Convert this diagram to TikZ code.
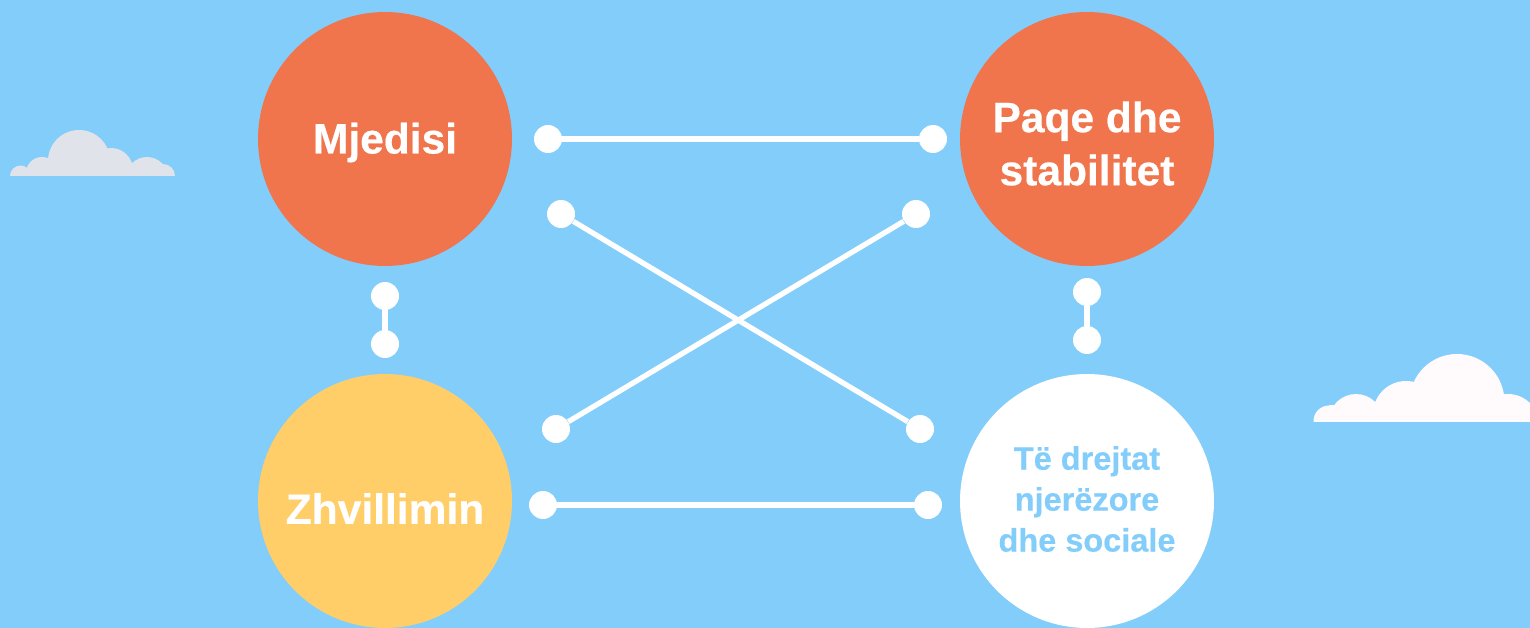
\documentclass[tikz,border=0pt]{standalone}
\usepackage{fontspec}
\setmainfont{Liberation Sans}[BoldFeatures={FakeBold=0.4}]
\definecolor{sky}{HTML}{83CDFB}
\definecolor{coral}{HTML}{F0754C}
\definecolor{sun}{HTML}{FFCE69}
\definecolor{cloudA}{HTML}{E1E3EA}
\definecolor{cloudB}{HTML}{FFFAFB}
\tikzset{
  x=0.02cm,y=-0.02cm,
  topic/.style={circle,minimum size=5.08cm,inner sep=0pt},
  caption/.style={align=center,inner sep=0pt,font=\bfseries\fontsize{24.2}{30.2}\selectfont,text=white},
  small caption/.style={caption,text=sky,font=\bfseries\fontsize{18.5}{23.3}\selectfont},
  dot/.style={circle,fill=white,minimum size=0.56cm,inner sep=0pt},
  link/.style={draw=white,line width=3.4pt},
  thin link/.style={draw=white,line width=3pt}
}
\begin{document}
\begin{tikzpicture}
\useasboundingbox (0,0) rectangle (1530,628);
\fill[sky] (0,0) rectangle (1530,628);
\begin{scope}
\clip (0,0) rectangle (1530,176);
\fill[cloudA] (79,161) circle[radius=31] (42,173) circle[radius=16] (20.5,176) circle[radius=10.5]
  (111,170) circle[radius=22] (147,178) circle[radius=21] (163,176) circle[radius=12];
\end{scope}
\begin{scope}
\clip (0,0) rectangle (1530,421);
\fill[cloudB] (1329,421) circle[radius=15.5] (1356,421) circle[radius=27] (1406,414) circle[radius=33]
  (1457,401.4) circle[radius=47.4] (1508,425) circle[radius=31];
\fill[cloudB] (1329,405) rectangle (1530,421);
\end{scope}
\begin{scope}
\clip (0,0) rectangle (1530,628);
\node[topic,fill=coral] (env) at (385,139) {};
\node[topic,fill=coral] (peace) at (1087,139) {};
\node[topic,fill=sun] (dev) at (385,501) {};
\node[topic,fill=white] (rights) at (1087,501) {};
\end{scope}
\node[caption] (envt) at (385,142.5) {Mjedisi};
\node[caption] (peacet) at (1087,143.5) {Paqe dhe\\stabilitet};
\node[caption] (devt) at (385,508.5) {Zhvillimin};
\node[small caption] (rightst) at (1087,499) {Të drejtat\\njerëzore\\dhe sociale};
\node[dot] (a1) at (548,139) {};
\node[dot] (a2) at (933,139) {};
\node[dot] (b1) at (561,214) {};
\node[dot] (b2) at (920,429) {};
\node[dot] (c1) at (916,214) {};
\node[dot] (c2) at (556,429) {};
\node[dot] (d1) at (543,505) {};
\node[dot] (d2) at (928,505) {};
\node[dot] (e1) at (385,296) {};
\node[dot] (e2) at (385,344) {};
\node[dot] (f1) at (1087,292) {};
\node[dot] (f2) at (1087,340) {};
\draw[link] (a1) -- (a2);
\draw[link] (d1) -- (d2);
\draw[thin link] (b1) -- (b2);
\draw[thin link] (c1) -- (c2);
\draw[link] (e1) -- (e2);
\draw[link] (f1) -- (f2);
\end{tikzpicture}
\end{document}
